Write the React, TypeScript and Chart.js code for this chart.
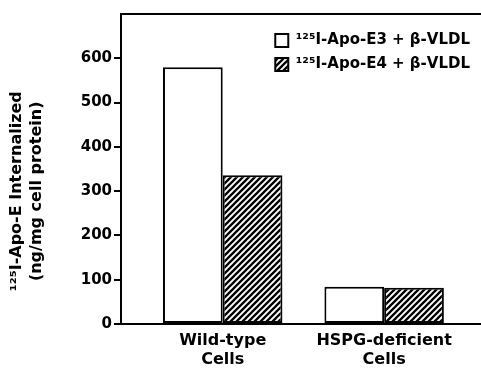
import React, { useEffect, useRef } from "react";
import { Chart, registerables } from "chart.js";

Chart.register(...registerables);

// ---- data ----
const categories: string[][] = [
  ["Wild-type", "Cells"],
  ["HSPG-deficient", "Cells"],
];
const apoE3Values = [580, 84];
const apoE4Values = [336, 82];
const seriesLabels = ["¹²⁵I-Apo-E3 + β-VLDL", "¹²⁵I-Apo-E4 + β-VLDL"];
const yTicks = [0, 100, 200, 300, 400, 500, 600];
const yMax = 700;
const yTitle = ["¹²⁵I-Apo-E Internalized        ", "(ng/mg cell protein)        "];

const FONT = "'DejaVu Sans', 'Liberation Sans', Arial, sans-serif";

function makeHatch(): CanvasPattern | string {
  const size = 6;
  const c = document.createElement("canvas");
  c.width = size;
  c.height = size;
  const g = c.getContext("2d");
  if (!g) return "#555";
  g.fillStyle = "#ffffff";
  g.fillRect(0, 0, size, size);
  g.strokeStyle = "#000000";
  g.lineWidth = 2.3;
  g.beginPath();
  g.moveTo(-1, size + 1);
  g.lineTo(size + 1, -1);
  g.moveTo(-1, 1);
  g.lineTo(1, -1);
  g.moveTo(size - 1, size + 1);
  g.lineTo(size + 1, size - 1);
  g.stroke();
  const p = g.createPattern(c, "repeat");
  return p || "#555";
}

const legendPlacer = {
  id: "legendPlacer",
  afterLayout(chart: any) {
    const lg = chart.legend;
    if (!lg) return;
    const ca = chart.chartArea;
    const w = lg.width;
    const h = lg.height;
    lg.left = ca.right - w - 1;
    lg.right = lg.left + w;
    lg.top = ca.top + 10;
    lg.bottom = lg.top + h;
  },
};

export default function App() {
  const ref = useRef<HTMLCanvasElement | null>(null);

  useEffect(() => {
    if (!ref.current) return;
    const hatch = makeHatch();
    const chart = new Chart(ref.current, {
      type: "bar",
      data: {
        datasets: [
          {
            label: seriesLabels[0],
            data: apoE3Values.map((v, i) => ({ x: i + 1, y: v })),
            backgroundColor: "#ffffff",
            borderColor: "#000000",
            borderWidth: 2,
            borderSkipped: false,
          },
          {
            label: seriesLabels[1],
            data: apoE4Values.map((v, i) => ({ x: i + 1, y: v })),
            backgroundColor: hatch as any,
            borderColor: "#000000",
            borderWidth: 2,
            borderSkipped: false,
          },
        ],
      },
      options: {
        responsive: false,
        animation: false,
        layout: { padding: 0 },
        categoryPercentage: 0.74,
        barPercentage: 1,
        plugins: {
          tooltip: { enabled: false },
          legend: {
            position: "chartArea" as any,
            align: "start",
            labels: {
              color: "#000",
              font: { family: FONT, size: 15, weight: "bold" },
              boxWidth: 13,
              boxHeight: 13,
              padding: 9,
            },
          },
        },
        scales: {
          x: {
            type: "linear",
            position: "bottom",
            offset: false,
            bounds: "data",
            min: 0.37,
            max: 2.6,
            afterBuildTicks: (s: any) => {
              s.ticks = categories.map((_, i) => ({ value: i + 1 }));
            },
            afterFit: (s: any) => {
              s.height = 44;
            },
            grid: { display: false, drawTicks: false, offset: false },
            border: { display: true, color: "#000", width: 2 },
            ticks: {
              color: "#000",
              font: { family: FONT, size: 16, weight: "bold", lineHeight: 1.2 },
              padding: 7,
              maxRotation: 0,
              autoSkip: false,
              callback: (v: any) => categories[Math.round(Number(v)) - 1] || "",
            },
          },
          xTop: {
            type: "linear",
            position: "top",
            offset: false,
            afterFit: (s: any) => {
              s.height = 14;
            },
            grid: { display: false, drawTicks: false },
            border: { display: true, color: "#000", width: 2 },
            ticks: { display: false },
          },
          y: {
            min: 0,
            max: yMax,
            afterBuildTicks: (s: any) => {
              s.ticks = yTicks.map((v) => ({ value: v }));
            },
            afterFit: (s: any) => {
              s.width = 121;
            },
            grid: {
              drawOnChartArea: false,
              drawTicks: true,
              tickLength: 7,
              color: "#000",
              lineWidth: 2,
            },
            border: { display: true, color: "#000", width: 2 },
            ticks: {
              color: "#000",
              font: { family: FONT, size: 15, weight: "bold" },
              padding: 2,
            },
            title: {
              display: true,
              text: yTitle,
              color: "#000",
              font: { family: FONT, size: 16, weight: "bold", lineHeight: 1.25 },
              padding: { top: 7, bottom: 0 },
            },
          },
        },
      },
      plugins: [legendPlacer],
    });
    return () => chart.destroy();
  }, []);

  return (
    <div
      style={{
        position: "fixed",
        left: 0,
        top: 0,
        width: 481,
        height: 368,
        background: "#ffffff",
      }}
    >
      <canvas ref={ref} width={481} height={368} style={{ display: "block" }} />
    </div>
  );
}
